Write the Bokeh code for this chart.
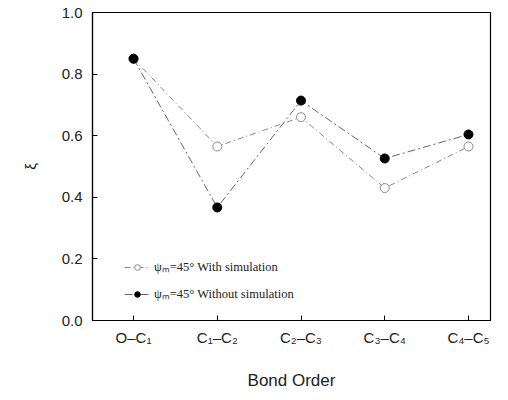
from bokeh.plotting import figure
from bokeh.models import Legend, LegendItem, FixedTicker, Range1d
from bokeh.embed import file_html
from bokeh.resources import INLINE

categories = ["O\u2013C\u2081", "C\u2081\u2013C\u2082", "C\u2082\u2013C\u2083", "C\u2083\u2013C\u2084", "C\u2084\u2013C\u2085"]
with_sim = [0.85, 0.565, 0.66, 0.43, 0.565]
without_sim = [0.85, 0.367, 0.714, 0.526, 0.604]
y_ticks = [0.0, 0.2, 0.4, 0.6, 0.8, 1.0]
label_with = "\u03c8\u2098=45\u00b0 With simulation"
label_without = "\u03c8\u2098=45\u00b0 Without simulation"

xs = list(range(len(categories)))

p = figure(width=508, height=400, output_backend="svg", toolbar_location=None,
           x_range=Range1d(-0.49, 4.263), y_range=Range1d(0, 1.0),
           min_border_left=92, min_border_right=18, min_border_top=12, min_border_bottom=80)
p.background_fill_color = "white"
p.border_fill_color = "white"
p.outline_line_color = "black"
p.outline_line_width = 1.2
p.xgrid.visible = False
p.ygrid.visible = False

l1 = p.line(xs, with_sim, line_color="#888888", line_width=1, line_dash="6 3 1 3")
c1 = p.scatter(xs, with_sim, marker="circle", size=9, fill_color="white",
               line_color="#888888", line_width=1)
l2 = p.line(xs, without_sim, line_color="#666666", line_width=1, line_dash="8 3 2 3")
c2 = p.scatter(xs, without_sim, marker="circle", size=9, fill_color="black",
               line_color="black")

p.xaxis.ticker = FixedTicker(ticks=xs)
p.xaxis.major_label_overrides = {i: c for i, c in enumerate(categories)}
p.yaxis.ticker = FixedTicker(ticks=y_ticks)
p.yaxis.major_label_overrides = {t: f"{t:.1f}" for t in y_ticks}

for ax in (p.xaxis[0], p.yaxis[0]):
    ax.axis_line_color = "black"
    ax.axis_line_width = 1.2
    ax.major_tick_in = 5
    ax.major_tick_out = 0
    ax.minor_tick_line_color = None
    ax.major_label_text_font = "Liberation Sans"
    ax.major_label_text_font_size = "15px"
    ax.major_label_text_color = "#222222"
    ax.axis_label_text_font = "Liberation Sans"
    ax.axis_label_text_font_style = "normal"
    ax.axis_label_text_color = "#222222"

p.xaxis.major_label_standoff = 8
p.yaxis.major_label_standoff = 10
p.xaxis.axis_label = "Bond Order"
p.xaxis.axis_label_text_font_size = "17px"
p.xaxis.axis_label_standoff = 22
p.yaxis.axis_label = "\u03be"
p.yaxis.axis_label_text_font_size = "15px"
p.yaxis.axis_label_standoff = 20

legend = Legend(items=[LegendItem(label=label_with, renderers=[l1, c1]),
                       LegendItem(label=label_without, renderers=[l2, c2])],
                location=(32, 18), orientation="vertical",
                label_text_font="Liberation Serif", label_text_font_size="12.5px",
                label_text_color="#222222",
                background_fill_alpha=0, border_line_color=None,
                glyph_width=26, glyph_height=14, spacing=10, padding=4,
                label_standoff=4, margin=0)
p.add_layout(legend)

open("out.html", "w").write(file_html(p, INLINE))
